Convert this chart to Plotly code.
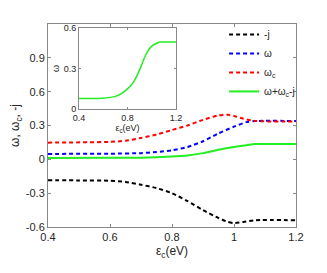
import plotly.graph_objects as go

x_j = [0.4, 0.5, 0.6, 0.65, 0.7, 0.75, 0.8, 0.85, 0.9, 0.95, 0.98, 1.0, 1.03, 1.07, 1.2]
neg_j = [-0.185, -0.187, -0.19, -0.20, -0.225, -0.255, -0.30, -0.37, -0.45, -0.52, -0.555, -0.565, -0.555, -0.54, -0.54]

x_w = [0.4, 0.6, 0.7, 0.75, 0.8, 0.85, 0.9, 0.95, 1.0, 1.04, 1.07, 1.2]
omega = [0.048, 0.05, 0.055, 0.065, 0.08, 0.11, 0.16, 0.23, 0.29, 0.33, 0.34, 0.34]

x_wc = [0.4, 0.6, 0.65, 0.7, 0.75, 0.8, 0.85, 0.9, 0.95, 0.98, 1.0, 1.03, 1.07, 1.2]
omega_c = [0.148, 0.155, 0.165, 0.19, 0.22, 0.26, 0.30, 0.35, 0.39, 0.395, 0.385, 0.36, 0.34, 0.335]

x_s = [0.4, 0.6, 0.7, 0.8, 0.85, 0.9, 0.95, 1.0, 1.05, 1.07, 1.2]
total = [0.012, 0.013, 0.015, 0.025, 0.035, 0.055, 0.085, 0.11, 0.13, 0.135, 0.135]

x_in = [0.4, 0.6, 0.7, 0.75, 0.8, 0.85, 0.9, 0.95, 1.0, 1.05, 1.07, 1.2]
inset_w = [0.08, 0.082, 0.095, 0.115, 0.15, 0.2, 0.29, 0.40, 0.465, 0.49, 0.495, 0.495]

main_yticks = [-0.6, -0.3, 0, 0.3, 0.6, 0.9]
main_xticks = [0.4, 0.6, 0.8, 1.0, 1.2]
inset_xticks = [0.4, 0.8, 1.2]
inset_yticks = [0, 0.3, 0.6]

dash = "4px,3px"
sm = dict(shape="spline", smoothing=0.6)

fig = go.Figure()
fig.add_trace(go.Scatter(x=x_j, y=neg_j, mode="lines", name="-j",
                         line=dict(color="black", width=2, dash=dash, **sm)))
fig.add_trace(go.Scatter(x=x_w, y=omega, mode="lines", name="ω",
                         line=dict(color="blue", width=2, dash=dash, **sm)))
fig.add_trace(go.Scatter(x=x_wc, y=omega_c, mode="lines", name="ω<sub>c</sub>",
                         line=dict(color="red", width=2, dash=dash, **sm)))
fig.add_trace(go.Scatter(x=x_s, y=total, mode="lines", name="ω+ω<sub>c</sub>-j",
                         line=dict(color="#22ee22", width=2, **sm)))
fig.add_trace(go.Scatter(x=x_in, y=inset_w, mode="lines", showlegend=False,
                         xaxis="x2", yaxis="y2",
                         line=dict(color="#22ee22", width=1.5, **sm)))

axcol = "#888888"
font = dict(family="Liberation Sans, Arial", size=11, color="#262626")

fig.update_layout(
    width=327, height=273,
    margin=dict(l=40, r=39, t=12, b=54),
    paper_bgcolor="white", plot_bgcolor="white",
    font=font,
    showlegend=True,
    legend=dict(x=0.71, y=1.02, xanchor="left", yanchor="top",
                bgcolor="rgba(0,0,0,0)", font=dict(size=10, color="#262626"),
                tracegroupgap=4),
    xaxis=dict(range=[0.4, 1.2], tickvals=main_xticks, ticktext=["0.4", "0.6", "0.8", "1", "1.2"],
               ticks="inside", ticklen=3, tickcolor=axcol, automargin=False,
               showline=True, linecolor=axcol, mirror="ticks", showgrid=False, zeroline=False,
               title=dict(text="ε<sub>c</sub>(eV)", standoff=4, font=dict(size=12))),
    yaxis=dict(range=[-0.6, 1.2], tickvals=main_yticks,
               ticktext=["-0.6", "-0.3", "0", "0.3", "0.6", "0.9"],
               ticks="inside", ticklen=3, tickcolor=axcol, automargin=False,
               showline=True, linecolor=axcol, mirror="ticks", showgrid=False, zeroline=False,
               title=dict(text="ω, ω<sub>c</sub>, -j", standoff=10, font=dict(size=12))),
    xaxis2=dict(domain=[0.125, 0.516], anchor="y2", range=[0.4, 1.2], tickvals=inset_xticks,
                ticktext=["0.4", "0.8", "1.2"], ticks="inside", ticklen=2, tickcolor=axcol,
                showline=True, linecolor=axcol, mirror="ticks", showgrid=False, zeroline=False,
                tickfont=dict(size=9), automargin=False,
                title=dict(text="ε<sub>c</sub>(eV)", standoff=2, font=dict(size=9))),
    yaxis2=dict(domain=[0.58, 0.981], anchor="x2", range=[0, 0.6], tickvals=inset_yticks,
                ticktext=["0", "0.3", "0.6"], ticks="inside", ticklen=2, tickcolor=axcol,
                showline=True, linecolor=axcol, mirror="ticks", showgrid=False, zeroline=False,
                tickfont=dict(size=9), automargin=False,
                title=dict(text="ω", standoff=2, font=dict(size=9))),
)

fig.write_html("out.html")
